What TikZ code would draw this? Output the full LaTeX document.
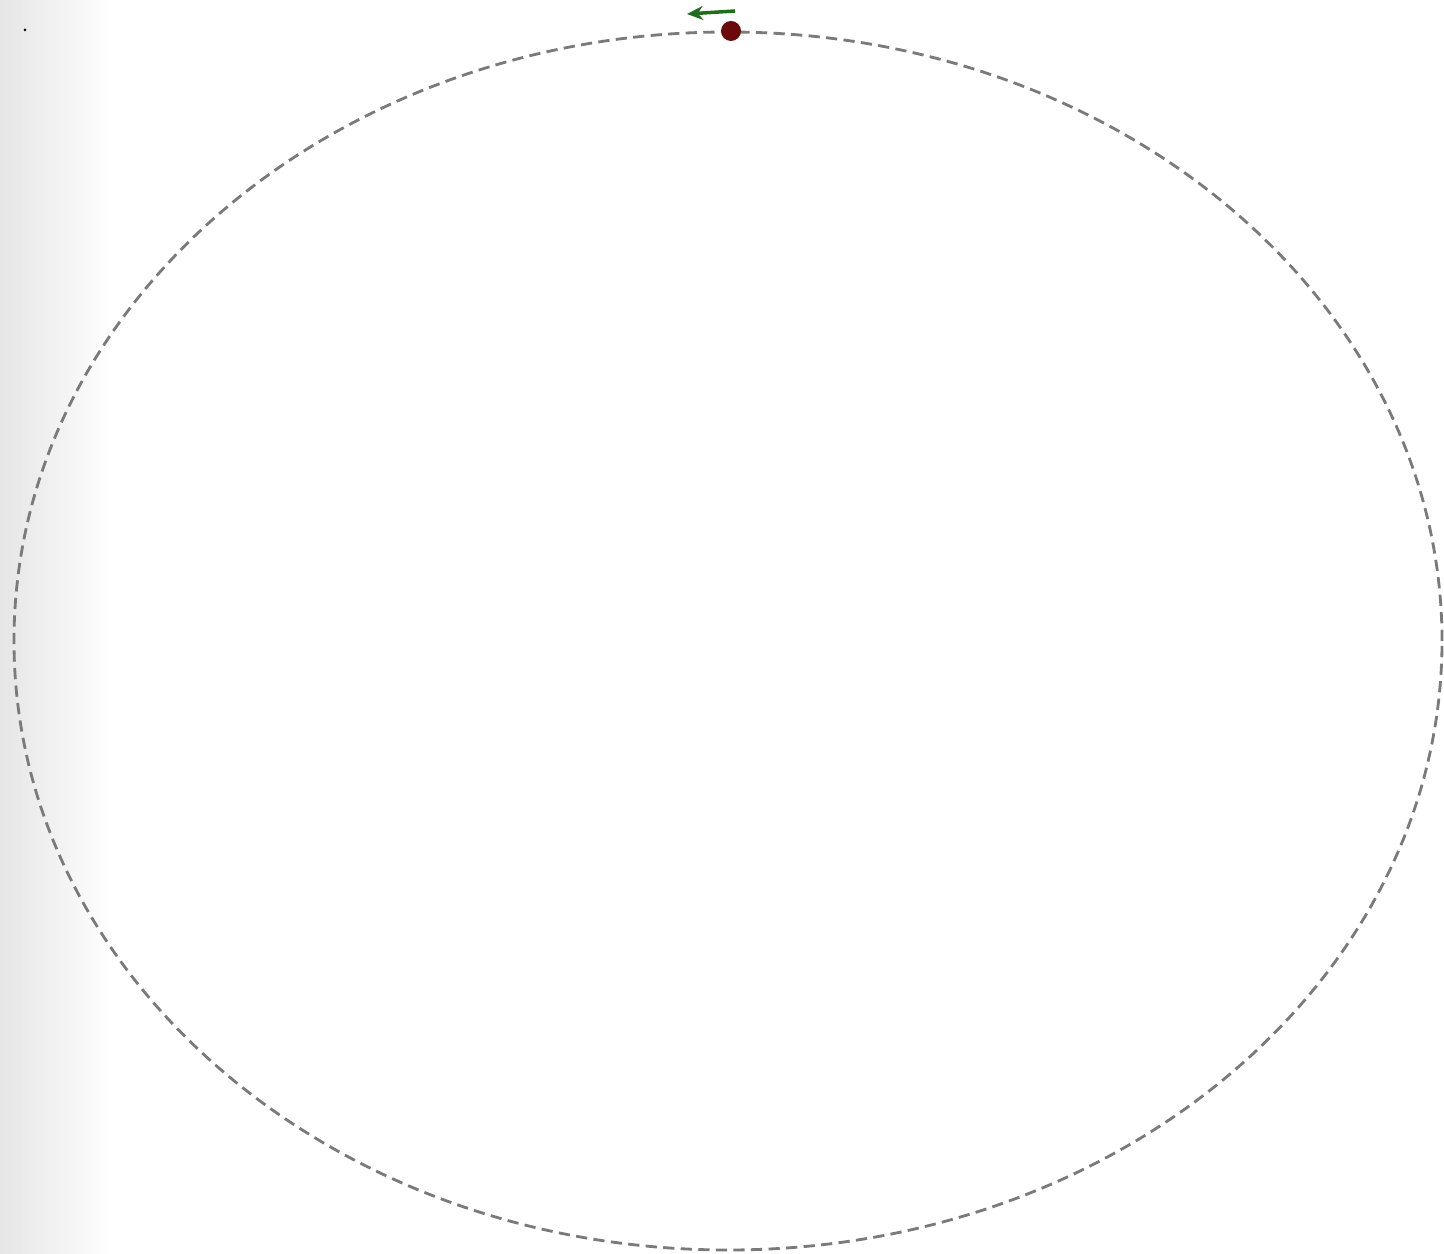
\documentclass[tikz,border=0pt]{standalone}
\usetikzlibrary{arrows.meta}

\definecolor{orbitgray}{HTML}{7A7A7A}
\definecolor{planetred}{HTML}{6A0A0A}
\definecolor{arrowgreen}{HTML}{1F6E1F}

\tikzset{
    orbit/.style={orbitgray, line width=0.8pt, dash pattern=on 3.2pt off 1.8pt},
    planet/.style={circle, fill=planetred, inner sep=0pt, minimum size=0.2cm},
    velocity/.style={-{Stealth[length=1.6mm,width=1.4mm]}, line width=1pt, arrowgreen}
}

\begin{document}
\begin{tikzpicture}
    % Batas gambar
    \useasboundingbox (0,0) rectangle (14.44,-12.54);

    % Latar bergradasi di kiri
    \shade[left color=gray!20, right color=white] (0,0) rectangle (1.15,-12.54);

    % Titik kecil di pojok
    \node[circle, fill=black, inner sep=0pt, minimum size=0.03cm] (mark) at (0.25,-0.30) {};

    % Gambar lintasan orbit
    \draw[orbit] (7.28,-6.41) ellipse [x radius=7.14, y radius=6.09];

    % Gambar benda pada orbit
    \node[planet] (body) at (7.31,-0.31) {};

    % Gambar arah kecepatan
    \coordinate (vstart) at (7.35,-0.11);
    \coordinate (vend) at (6.87,-0.14);
    \draw[velocity] (vstart) -- (vend);

\end{tikzpicture}
\end{document}
